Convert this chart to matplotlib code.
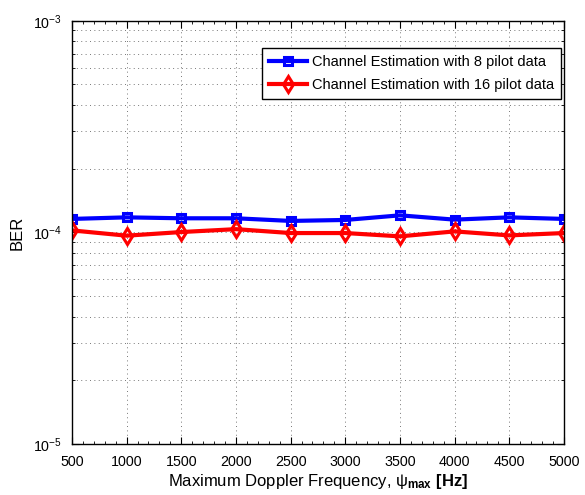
import matplotlib
matplotlib.use('Agg')
from matplotlib import pyplot as plt
from matplotlib.ticker import MultipleLocator, LogLocator, NullFormatter
import numpy as np

# data
doppler = [500, 1000, 1500, 2000, 2500, 3000, 3500, 4000, 4500, 5000]
ber_8pilot = [1.158e-4, 1.178e-4, 1.166e-4, 1.166e-4, 1.133e-4, 1.145e-4, 1.204e-4, 1.149e-4, 1.178e-4, 1.158e-4]
ber_16pilot = [1.022e-4, 0.965e-4, 1.004e-4, 1.036e-4, 0.993e-4, 0.993e-4, 0.958e-4, 1.011e-4, 0.968e-4, 0.993e-4]
labels = ['Channel Estimation with 8 pilot data', 'Channel Estimation with 16 pilot data']

plt.rcParams['font.family'] = ['Liberation Sans', 'DejaVu Sans']
plt.rcParams['mathtext.fontset'] = 'custom'
plt.rcParams['mathtext.rm'] = 'Liberation Sans'
plt.rcParams['mathtext.it'] = 'Liberation Sans'
plt.rcParams['mathtext.bf'] = 'Liberation Sans:bold'

fig = plt.figure(figsize=(5.85, 4.95), dpi=100)
# axes box: x 72..564 px, y 21..444 px
ax = fig.add_axes([0.123, 0.103, 0.841, 0.855])

ax.semilogy(doppler, ber_8pilot, 's-', color='blue', lw=3, ms=6,
            mfc='none', mew=2.2, label=labels[0])
ax.semilogy(doppler, ber_16pilot, 'd-', color='red', lw=3, ms=8,
            mfc='none', mew=2.2, label=labels[1])

ax.set_xlim(500, 5000)
ax.set_ylim(1e-5, 1e-3)
ax.xaxis.set_major_locator(MultipleLocator(500))
ax.xaxis.set_minor_locator(MultipleLocator(100))
ax.yaxis.set_major_locator(LogLocator(base=10, numticks=5))
ax.yaxis.set_minor_locator(LogLocator(base=10, subs=np.arange(2, 10), numticks=20))
ax.yaxis.set_minor_formatter(NullFormatter())

ax.tick_params(which='both', direction='in', top=True, right=True, labelsize=10.3)
ax.tick_params(which='major', length=5)
ax.tick_params(which='minor', length=2.5)
ax.tick_params(axis='x', which='major', pad=8)
ax.tick_params(axis='y', which='major', pad=7)
ax.grid(True, which='major', linestyle=(0, (1, 3.5)), color='#777777', lw=0.7)
ax.grid(True, which='minor', axis='y', linestyle=(0, (1, 3.5)), color='#777777', lw=0.7)
for s in ax.spines.values():
    s.set_linewidth(1.0)

ax.set_xlabel(r'Maximum Doppler Frequency, $\psi_{\mathbf{max}}$ $\mathbf{[Hz]}$', fontsize=12, labelpad=2)
ax.set_ylabel('BER', fontsize=12, labelpad=6)

leg = ax.legend(loc='upper right', bbox_to_anchor=(0.994, 0.936), fontsize=10.5,
                fancybox=False, framealpha=1, edgecolor='black',
                handlelength=2.6, handletextpad=0.3, labelspacing=0.6,
                borderpad=0.5, borderaxespad=0)
leg.get_frame().set_linewidth(1.0)

plt.savefig('out.png', dpi=100)
